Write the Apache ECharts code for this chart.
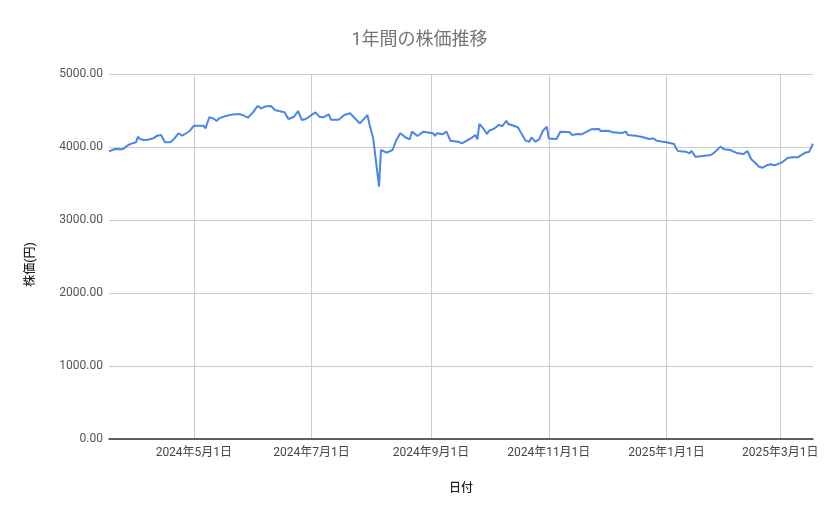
<!DOCTYPE html>
<html>
<head>
<meta charset="utf-8">
<script src="https://cdn.jsdelivr.net/npm/echarts@6/dist/echarts.min.js"></script>
<style>
html,body{margin:0;padding:0;background:#fff;}
#chart{width:839px;height:519px;}
</style>
</head>
<body>
<div id="chart"></div>
<script>
const titleText = '1年間の株価推移';
const xName = '日付';
const yName = '株価(円)';

const dates = [
'2024-03-18','2024-03-21','2024-03-25','2024-03-26','2024-03-28','2024-03-30',
'2024-04-01','2024-04-02','2024-04-03','2024-04-04','2024-04-05','2024-04-07','2024-04-08','2024-04-10','2024-04-12','2024-04-14','2024-04-16','2024-04-19','2024-04-21','2024-04-23','2024-04-25','2024-04-27','2024-04-29',
'2024-05-01','2024-05-06','2024-05-07','2024-05-09','2024-05-11','2024-05-13','2024-05-14','2024-05-17','2024-05-20','2024-05-21','2024-05-22','2024-05-25','2024-05-27','2024-05-29',
'2024-06-01','2024-06-03','2024-06-05','2024-06-07','2024-06-10','2024-06-12','2024-06-13','2024-06-14','2024-06-17','2024-06-19','2024-06-22','2024-06-24','2024-06-26','2024-06-28',
'2024-07-03','2024-07-05','2024-07-07','2024-07-10','2024-07-11','2024-07-15','2024-07-18','2024-07-21','2024-07-22','2024-07-26','2024-07-28','2024-07-29','2024-07-30','2024-07-31',
'2024-08-02','2024-08-05','2024-08-06','2024-08-09','2024-08-12','2024-08-14','2024-08-16','2024-08-19','2024-08-21','2024-08-22','2024-08-25','2024-08-28',
'2024-09-02','2024-09-03','2024-09-04','2024-09-07','2024-09-09','2024-09-11','2024-09-12','2024-09-15','2024-09-17','2024-09-22','2024-09-24','2024-09-25','2024-09-26','2024-09-28','2024-09-30',
'2024-10-01','2024-10-02','2024-10-04','2024-10-06','2024-10-07','2024-10-08','2024-10-10','2024-10-11','2024-10-16','2024-10-17','2024-10-20','2024-10-22','2024-10-23','2024-10-25','2024-10-27','2024-10-29','2024-10-31',
'2024-11-01','2024-11-05','2024-11-07','2024-11-12','2024-11-13','2024-11-16','2024-11-18','2024-11-23','2024-11-27','2024-11-28',
'2024-12-02','2024-12-04','2024-12-05','2024-12-09','2024-12-11','2024-12-12','2024-12-16','2024-12-20','2024-12-23','2024-12-25','2024-12-27',
'2025-01-01','2025-01-05','2025-01-06','2025-01-07','2025-01-08','2025-01-11','2025-01-13','2025-01-14','2025-01-16','2025-01-20','2025-01-24','2025-01-26','2025-01-29','2025-01-31',
'2025-02-03','2025-02-04','2025-02-07','2025-02-10','2025-02-12','2025-02-14','2025-02-16','2025-02-18','2025-02-20','2025-02-22','2025-02-24','2025-02-26','2025-02-27',
'2025-03-02','2025-03-05','2025-03-08','2025-03-10','2025-03-12','2025-03-14','2025-03-16','2025-03-18'
];

const prices = [
3940,3973,3968,3965,4027,4050,
4064,4141,4110,4127,4096,4100,4127,4118,4155,4164,4064,4068,4118,4188,4155,4188,4223,
4292,4292,4256,4407,4392,4356,4392,4420,4440,4425,4448,4448,4429,4401,
4484,4562,4530,4556,4562,4507,4521,4493,4475,4384,4415,4493,4370,4384,
4475,4415,4407,4448,4374,4374,4438,4462,4484,4324,4379,4392,4438,4315,
4118,3456,3959,3922,3959,4096,4188,4127,4105,4210,4151,4210,
4188,4151,4188,4174,4210,4087,4105,4073,4050,4125,4164,4105,4315,4256,4178,
4223,4196,4256,4301,4324,4288,4360,4315,4270,4223,4087,4073,4133,4073,4105,4223,4279,
4118,4110,4210,4201,4164,4178,4174,4242,4247,4219,
4223,4201,4210,4192,4210,4164,4155,4133,4110,4118,4087,
4064,4041,3982,3945,3968,3936,3913,3949,3868,3877,3890,3927,4005,3968,
3959,3936,3913,3904,3945,3832,3785,3730,3717,3749,3763,3749,3763,
3790,3853,3859,3859,3890,3922,3936,4045
];

const xTicks = ['2024-05-01','2024-07-01','2024-09-01','2024-11-01','2025-01-01','2025-03-01'];
const yMin = 0, yMax = 5000, yStep = 1000;

function toTime(d) { return new Date(d + 'T00:00:00').getTime(); }

const chart = echarts.init(document.getElementById('chart'));
const seriesData = dates.map((d, i) => [toTime(d), prices[i]]);
const tickTimes = xTicks.map(toTime);

chart.setOption({
  backgroundColor: '#ffffff',
  animation: false,
  textStyle: { fontFamily: 'Roboto, "Noto Sans CJK JP", sans-serif' },
  title: {
    text: titleText,
    left: 'center',
    top: 27,
    textStyle: { fontSize: 18, fontWeight: 'normal', color: '#757575', fontFamily: 'Roboto, "Noto Sans CJK JP", sans-serif' }
  },
  grid: { left: 109, right: 26, top: 74, bottom: 80, containLabel: false },
  xAxis: {
    type: 'value',
    min: toTime(dates[0]),
    max: toTime(dates[dates.length - 1]),
    name: xName,
    nameLocation: 'middle',
    nameGap: 44,
    nameTextStyle: { fontSize: 12, color: '#222', fontWeight: 500 },
    axisLine: { show: true, onZero: true, lineStyle: { color: '#333', width: 1.5 } },
    axisTick: { show: false, customValues: tickTimes },
    axisLabel: {
      customValues: tickTimes,
      color: '#444',
      fontSize: 12,
      margin: 8,
      showMinLabel: true,
      showMaxLabel: true,
      formatter: function (v) {
        const d = new Date(v);
        return d.getFullYear() + '年' + (d.getMonth() + 1) + '月' + d.getDate() + '日';
      }
    },
    splitLine: { show: true, lineStyle: { color: '#cccccc', width: 1 } }
  },
  yAxis: {
    type: 'value',
    min: yMin,
    max: yMax,
    interval: yStep,
    name: yName,
    nameLocation: 'middle',
    nameGap: 72,
    nameRotate: 90,
    nameTextStyle: { fontSize: 12, color: '#222', fontWeight: 500, padding: [0, 16, 0, 0] },
    axisLine: { show: false },
    axisTick: { show: false },
    axisLabel: {
      color: '#555',
      fontSize: 12,
      margin: 6,
      formatter: v => v.toFixed(2)
    },
    splitLine: { show: true, lineStyle: { color: '#cccccc', width: 1 } }
  },
  series: [{
    type: 'line',
    data: seriesData,
    showSymbol: false,
    symbol: 'none',
    lineStyle: { color: '#4a86e8', width: 2 },
    itemStyle: { color: '#4a86e8' }
  }]
});
</script>
</body>
</html>
